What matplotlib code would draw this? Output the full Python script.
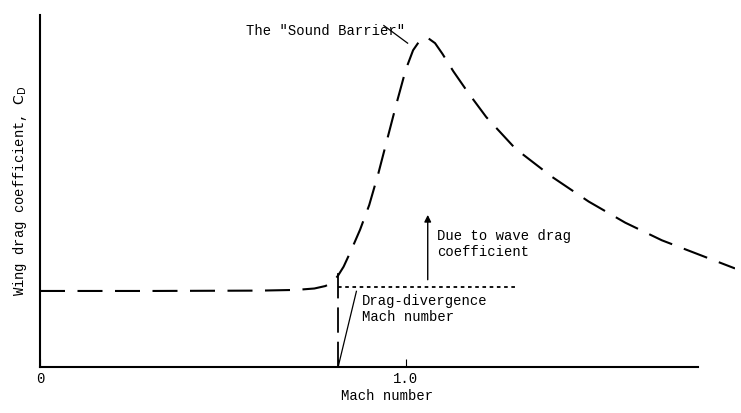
import matplotlib
matplotlib.use('Agg')
from matplotlib import pyplot as plt

# drag curve (Mach, C_D in axis-fraction units)
mach = [0.0, 0.3, 0.6, 0.70, 0.75, 0.78, 0.80, 0.815, 0.83, 0.85, 0.875, 0.9, 0.925, 0.95, 0.975,
        1.0, 1.02, 1.04, 1.06, 1.08, 1.10, 1.13, 1.17, 1.22, 1.3, 1.4, 1.5, 1.6, 1.7, 1.8, 1.9]
cd = [0.216, 0.216, 0.217, 0.219, 0.223, 0.23, 0.24, 0.26, 0.285, 0.33, 0.39, 0.46, 0.55, 0.65, 0.75,
      0.845, 0.90, 0.93, 0.935, 0.92, 0.89, 0.84, 0.78, 0.71, 0.62, 0.54, 0.47, 0.41, 0.36, 0.32, 0.28]
m_dd = 0.815
base_cd = 0.227
wave_end = 1.30

plt.rcParams['font.family'] = ['Liberation Mono', 'DejaVu Sans Mono']
fig = plt.figure(figsize=(7.41, 4.13), dpi=100)
ax = fig.add_axes([40 / 741, 1 - 367 / 413, 695 / 741, 352 / 413])
ax.set_xlim(0, 1.9)
ax.set_ylim(0, 1)
ax.spines['top'].set_visible(False)
ax.spines['right'].set_visible(False)
ax.spines['bottom'].set_bounds(0, 1.8)
ax.spines['left'].set_linewidth(1.5)
ax.spines['bottom'].set_linewidth(1.5)

ax.plot(mach, cd, color='black', lw=1.5, dashes=(12, 6))
ax.plot([m_dd, wave_end], [base_cd, base_cd], color='black', lw=1.3, dashes=(2, 2))
ax.plot([m_dd, m_dd], [0, 0.29], color='black', lw=1.3, dashes=(14, 5))
ax.annotate('', xy=(1.06, 0.44), xytext=(1.06, 0.24),
            arrowprops=dict(arrowstyle='-|>', color='black', lw=1))

ax.text(1.085, 0.35, 'Due to wave drag\ncoefficient', fontsize=10, va='center')
ax.text(0.88, 0.165, 'Drag-divergence\nMach number', fontsize=10, va='center')
ax.plot([m_dd, 0.865], [0.0, 0.215], color='black', lw=0.9)
ax.text(0.78, 0.955, 'The "Sound Barrier"', fontsize=10, ha='center', va='center')
ax.plot([0.94, 1.005], [0.97, 0.92], color='black', lw=0.9)

ax.set_xticks([0, m_dd, 1.0])
ax.set_xticklabels(['0', '', '1.0'], fontsize=10)
ax.tick_params(axis='x', direction='in', length=6)
ax.set_yticks([])
ax.set_xlabel('Mach number', fontsize=10, labelpad=2)
ax.set_ylabel('Wing drag coefficient, $\\mathrm{C_D}$', fontsize=10, labelpad=8)

fig.savefig('out.png', dpi=100)
